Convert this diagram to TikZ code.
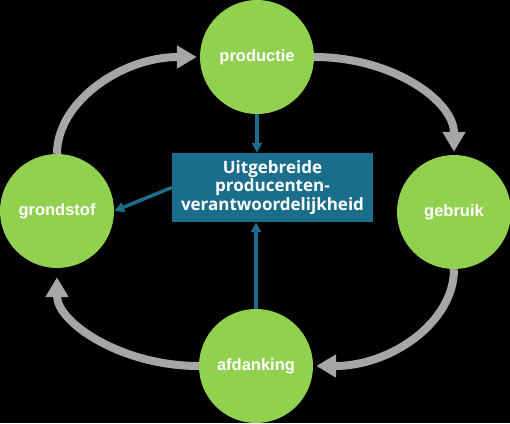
\documentclass[tikz,border=0pt]{standalone}
\usepackage{fontspec}
\setmainfont{Liberation Sans}
\newfontfamily\boxfont{Open Sans}
\usetikzlibrary{arrows.meta}
\definecolor{cyclegreen}{HTML}{92D050}
\definecolor{eprblue}{HTML}{1A6E8C}
\definecolor{cyclegrey}{HTML}{A6A6A6}

\begin{document}
\begin{tikzpicture}[x=1pt,y=1pt,
    phase/.style={circle,fill=cyclegreen,minimum size=114pt,inner sep=0pt,
      text=white,font=\bfseries\fontsize{16.5}{19}\selectfont},
    epr/.style={fill=eprblue,minimum width=201pt,minimum height=69pt,inner sep=0pt,
      text=white,align=center,font=\boxfont\bfseries\fontsize{17}{18.5}\selectfont},
    cycle/.style={-{Triangle[length=20pt,width=22pt]},line width=8pt,
      draw=cyclegrey,shorten >=3pt},
    feed/.style={-{Triangle[length=10pt,width=10pt]},line width=3.5pt,draw=eprblue}]

  \fill[black] (0,0) rectangle (510,423);
  \useasboundingbox (0,0) rectangle (510,423);

  \node[phase] (productie) at (257,366) {productie};
  \node[phase] (gebruik)   at (454,211) {gebruik};
  \node[phase] (afdanking) at (256,57)  {afdanking};
  \node[phase] (grondstof) at (57,212)  {grondstof};
  \node[epr]   (epr)       at (272.5,235.5)
    {Uitgebreide\\producenten-\\verantwoordelijkheid};

  % The cycle (quarter ellipses)
  \path[cycle] (grondstof.north) .. controls +(0,52) and +(-78,0) .. (productie.west);
  \path[cycle] (productie.east) .. controls +(78,0) and +(0,54) .. (gebruik.north);
  \path[cycle] (gebruik.south) .. controls +(0,-53) and +(78,0) .. (afdanking.east);
  \path[cycle,shorten >=9pt] (afdanking.west) .. controls +(-78,0) and +(0,-54) .. (grondstof.south);

  % Links with the box
  \path[feed] (productie.south) -- (productie.south |- epr.north);
  \path[feed] (afdanking.north) -- (afdanking.north |- epr.south);
  \path[feed] (epr.west) -- (grondstof.east);

\end{tikzpicture}
\end{document}
